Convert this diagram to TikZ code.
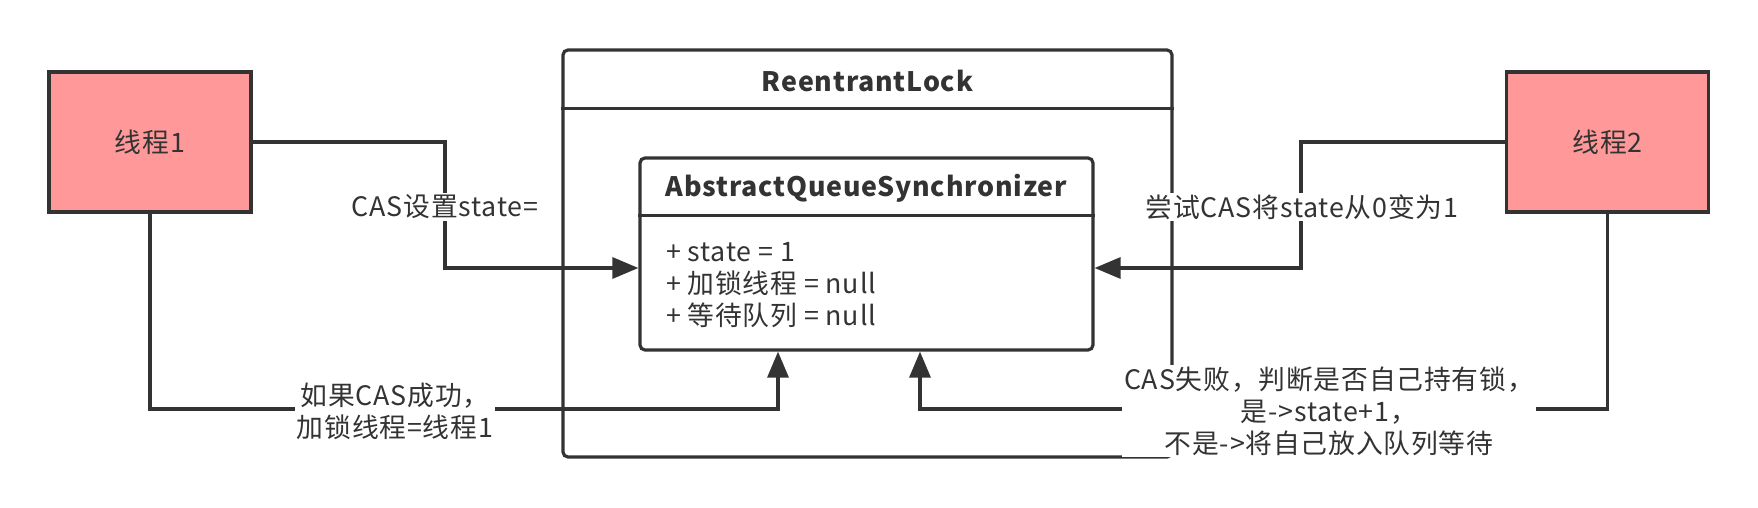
\documentclass[tikz,border=0pt]{standalone}
\usepackage{fontspec}
\setmainfont[LetterSpace=3]{Noto Sans CJK SC}
\usetikzlibrary{arrows.meta}
\definecolor{linegray}{HTML}{333333}
\definecolor{threadred}{HTML}{FF9999}

\begin{document}
\begin{tikzpicture}[x=0.5pt, y=-0.5pt,
    every node/.style={text=linegray, font=\fontsize{13.4pt}{16pt}\selectfont},
    thread/.style={draw=linegray, line width=1.6pt, fill=threadred, minimum width=101pt, minimum height=70pt, inner sep=0pt},
    frame/.style={draw=linegray, line width=1.6pt, rounded corners=2.5pt, inner sep=0pt},
    title/.style={font=\bfseries\fontsize{13.4pt}{16pt}\selectfont},
    flow/.style={draw=linegray, line width=1.6pt, -{Triangle[length=13pt,width=10.5pt]}},
    lbl/.style={fill=white, inner sep=1pt, align=center}]

    \useasboundingbox (0,0) rectangle (1758,508);

    % outer class box
    \node[frame, minimum width=304.5pt, minimum height=203.5pt] (lock) at (867.5,253.5) {};
    \node[title] (locktitle) at (867.5,81) {ReentrantLock};
    \draw[linegray, line width=1.6pt] ([yshift=-30pt]lock.north west) -- ([yshift=-30pt]lock.north east);

    % inner class box
    \node[frame, fill=white, minimum width=226.5pt, minimum height=96pt] (aqs) at (866.5,254) {};
    \node[title] (aqstitle) at (866.5,188) {AbstractQueueSynchronizer};
    \draw[linegray, line width=1.6pt] ([yshift=-29.5pt]aqs.north west) -- ([yshift=-29.5pt]aqs.north east);
    \node[anchor=west, align=left] (attrs) at (659,285) {+ state = 1\\+ 加锁线程 = null\\+ 等待队列 = null};

    % threads
    \node[thread] (t1) at (150,142) {线程1};
    \node[thread] (t2) at (1607.5,142) {线程2};

    % connectors
    \coordinate (c1) at (445,268);
    \coordinate (c2) at (778,409);
    \coordinate (c3) at (1301,268);
    \coordinate (c4) at (920,409);
    \draw[flow] (t1.east) -| (c1) -- (c1 -| aqs.west);
    \draw[flow] (t1.south) |- (c2) -- (c2 |- aqs.south);
    \draw[flow] (t2.west) -| (c3) -- (c3 -| aqs.east);
    \draw[flow] (t2.south) |- (c4) -- (c4 |- aqs.south);

    % labels
    \node[lbl] (l1) at (445,207) {CAS设置state=};
    \node[lbl] (l2) at (395,411) {如果CAS成功，\\加锁线程=线程1};
    \node[lbl] (l3) at (1302,207) {尝试CAS将state从0变为1};
    \node[lbl] (l4) at (1329,411) {CAS失败，判断是否自己持有锁，\\是->state+1，\\不是->将自己放入队列等待};

\end{tikzpicture}
\end{document}
